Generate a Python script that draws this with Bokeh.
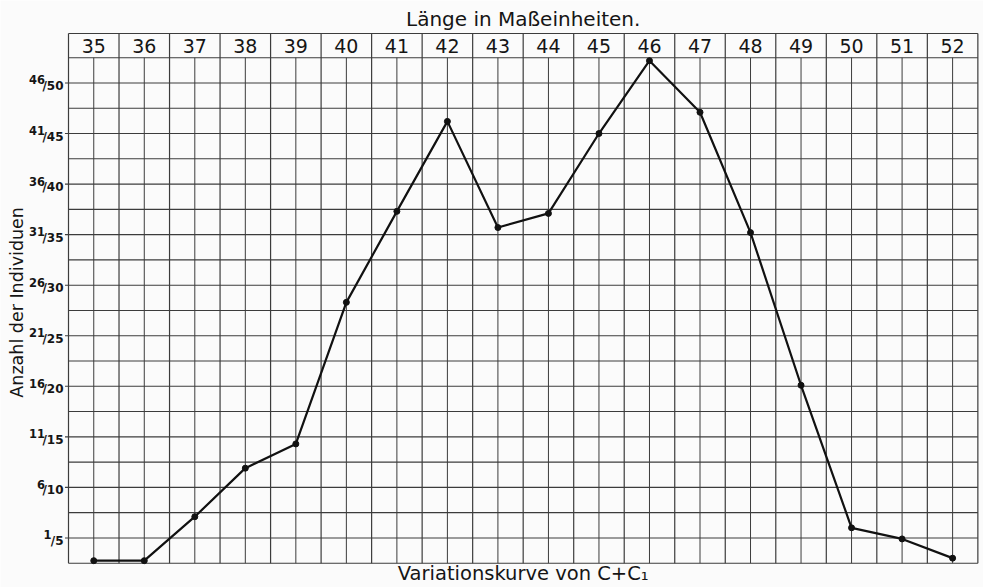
import numpy as np
from bokeh.plotting import figure
from bokeh.models import Range1d
from bokeh.core.properties import value
from bokeh.embed import file_html
from bokeh.resources import INLINE

# ---- data ----
lengths = [35, 36, 37, 38, 39, 40, 41, 42, 43, 44, 45, 46, 47, 48, 49, 50, 51, 52]
counts = [0.25, 0.25, 4.6, 9.4, 11.8, 25.8, 34.8, 43.7, 33.2, 34.6, 42.5, 49.7, 44.6, 32.7, 17.6, 3.5, 2.4, 0.5]
y_label_pos = [2.5, 7.5, 12.5, 17.5, 22.5, 27.5, 32.5, 37.5, 42.5, 47.5]
y_label_num = ["1", "6", "11", "16", "21", "26", "31", "36", "41", "46"]
y_label_den = ["/5", "/10", "/15", "/20", "/25", "/30", "/35", "/40", "/45", "/50"]
header_labels = [str(v) for v in lengths]
title_text = "Länge in Maßeinheiten."
xlabel_text = "Variationskurve von C+C₁"
ylabel_text = "Anzahl der Individuen"

# ---- layout in data units ----
Y_MAX = 50.0          # top of the plotting grid
Y_HEAD = 52.39        # top of the header row
X0, X1 = lengths[0] - 0.5, lengths[-1] + 0.5
W, H = 983, 587
PX_X = 50.52          # pixels per length unit
PX_Y = 10.11          # pixels per count unit
x_start = X0 - 68 / PX_X
x_end = x_start + W / PX_X
y_start = -(H - 562.7) / PX_Y
y_end = y_start + H / PX_Y

FONT = "DejaVu Sans"
INK = "#151515"
GRID = "#3c3c3c"
BG = "#fbfbfb"

p = figure(width=W, height=H, output_backend="svg", toolbar_location=None,
           x_axis_location=None, y_axis_location=None,
           x_range=Range1d(x_start, x_end), y_range=Range1d(y_start, y_end),
           min_border=0)
p.background_fill_color = BG
p.border_fill_color = BG
p.outline_line_color = None
p.xgrid.visible = False
p.ygrid.visible = False

# horizontal grid lines every 2.5 plus header top
hy = list(np.arange(0, Y_MAX + 0.01, 2.5)) + [Y_HEAD]
p.segment(x0=[X0] * len(hy), y0=hy, x1=[X1] * len(hy), y1=hy, line_color=GRID, line_width=1.1)

# column boundaries (through the header)
bx = [v - 0.5 for v in lengths] + [lengths[-1] + 0.5]
p.segment(x0=bx, y0=[0] * len(bx), x1=bx, y1=[Y_HEAD] * len(bx), line_color=GRID, line_width=1.2)

# column centre lines (below header only)
p.segment(x0=lengths, y0=[0] * len(lengths), x1=lengths, y1=[Y_MAX] * len(lengths),
          line_color=GRID, line_width=1.0)

# small ticks at labelled rows
p.segment(x0=[X0 - 0.07] * len(y_label_pos), y0=y_label_pos, x1=[X0] * len(y_label_pos),
          y1=y_label_pos, line_color=GRID, line_width=1.1)

# header numbers
p.text(x=lengths, y=[(Y_MAX + Y_HEAD) / 2] * len(lengths), text=header_labels,
       text_align="center", text_baseline="middle", text_font=value(FONT),
       text_font_size="19px", text_color=INK)

# curve
p.line(lengths, counts, line_color="#111111", line_width=2.2)
p.scatter(lengths, counts, size=6, color="#111111")

# y labels, fraction style
n = len(y_label_pos)
p.text(x=[X0] * n, y=y_label_pos, text=y_label_den, x_offset=-5, y_offset=3,
       text_align="right", text_baseline="middle", text_font=value(FONT),
       text_font_size="12px", text_font_style="bold", text_color=INK)
p.text(x=[X0] * n, y=y_label_pos, text=y_label_num,
       x_offset=[-4 - 6.5 * len(d) for d in y_label_den], y_offset=-3,
       text_align="right", text_baseline="middle", text_font=value(FONT),
       text_font_size="11.5px", text_font_style="bold", text_color=INK)

# titles
xc = (X0 + X1) / 2
p.text(x=[xc], y=[Y_HEAD], y_offset=-15, text=[title_text],
       text_align="center", text_baseline="middle", text_font=value(FONT),
       text_font_size="20px", text_color=INK)
p.text(x=[xc], y=[0], y_offset=10, text=[xlabel_text],
       text_align="center", text_baseline="middle", text_font=value(FONT),
       text_font_size="19.5px", text_color=INK)
p.text(x=[X0], y=[25.8], x_offset=-52, text=[ylabel_text], angle=np.pi / 2,
       text_align="center", text_baseline="middle", text_font=value(FONT),
       text_font_size="17.5px", text_color=INK)

open("out.html", "w").write(file_html(p, INLINE))
